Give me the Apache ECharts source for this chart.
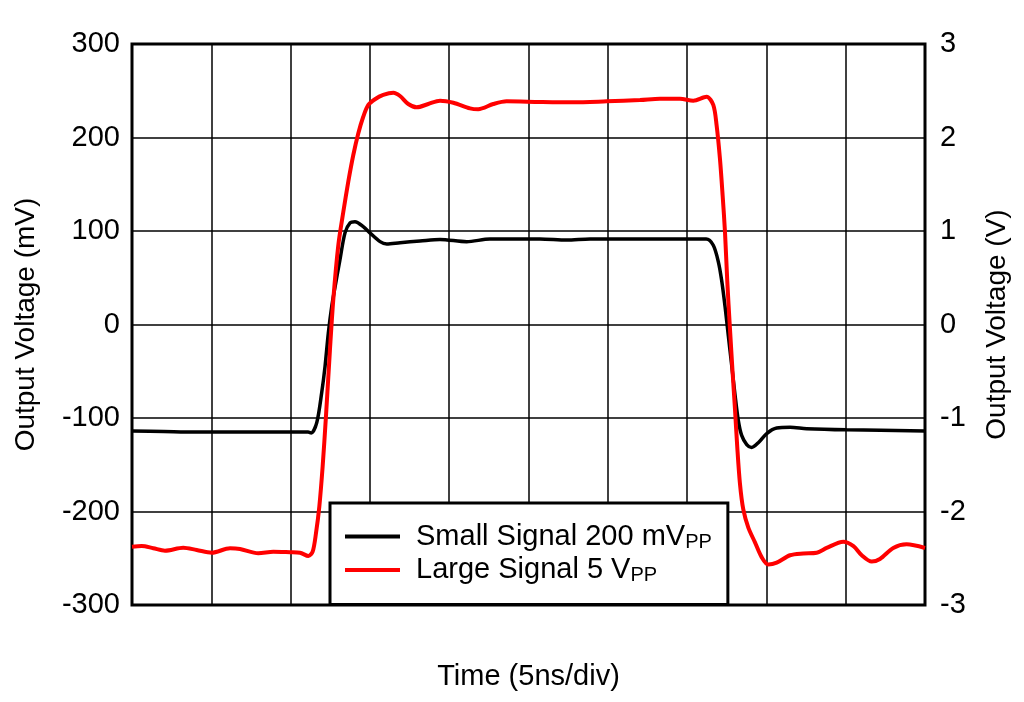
<!DOCTYPE html>
<html>
<head>
<meta charset="utf-8">
<script src="https://cdn.jsdelivr.net/npm/echarts@6/dist/echarts.min.js"></script>
<style>
  html, body { margin: 0; padding: 0; background: #fff; }
  #chart { width: 1024px; height: 702px; }
</style>
</head>
<body>
<div id="chart"></div>
<script>
// time in ns (5 ns per division)
const smallTime = [0, 2, 4, 6, 8, 10, 11.1, 11.3, 11.65, 11.96, 12.17, 12.38, 12.59, 12.8, 13.11, 13.43, 13.75, 14.06, 14.58, 15.0, 15.64, 16.06, 16.9, 18.16, 19.42, 21.1, 22.57, 25.72, 27.41, 28.88, 32, 36.2, 36.65, 36.97, 37.18, 37.39, 37.6, 37.81, 38.02, 38.23, 38.44, 38.76, 39.07, 39.49, 40.02, 40.65, 41.49, 42.54, 45.06, 50]
// small signal, mV (left axis)
const smallVolt = [-114, -114.5, -115, -115, -115, -115, -115, -116, -105, -73, -45, -9, 19, 40, 69, 98, 108.6, 110, 104.6, 98, 88.6, 86.1, 87.5, 89.3, 91, 88.5, 91.5, 91.5, 90.4, 91.5, 91.5, 91.5, 84.8, 67, 47, 19.6, -12, -43.5, -75, -102.8, -118.6, -128.4, -131.5, -126.4, -116.6, -110.7, -110, -111.4, -112.6, -113.8]

const largeTime = [0, 0.61, 1.34, 2.08, 3.23, 4.08, 5.03, 6.18, 6.81, 7.96, 8.91, 9.96, 10.59, 11.12, 11.39, 11.6, 11.81, 12.02, 12.23, 12.48, 12.69, 13.01, 13.32, 13.64, 13.95, 14.27, 14.58, 14.9, 15.32, 15.84, 16.48, 16.9, 17.42, 17.95, 18.68, 19.42, 20.26, 21.31, 21.83, 22.78, 23.62, 25.72, 27.8, 29.93, 32.03, 33.29, 34.55, 35.39, 36.23, 36.65, 36.86, 37.07, 37.24, 37.39, 37.53, 37.7, 37.87, 38.02, 38.16, 38.33, 38.54, 38.86, 39.28, 39.7, 40.12, 40.65, 41.49, 42.33, 43.17, 43.8, 44.85, 45.49, 46.01, 46.64, 47.16, 48.0, 48.84, 50]
// large signal, V (right axis)
const largeVolt = [-2.376, -2.369, -2.393, -2.419, -2.387, -2.412, -2.441, -2.393, -2.401, -2.447, -2.43, -2.436, -2.441, -2.476, -2.43, -2.233, -1.949, -1.521, -0.98, -0.273, 0.262, 0.85, 1.2, 1.53, 1.81, 2.045, 2.222, 2.348, 2.409, 2.455, 2.479, 2.444, 2.358, 2.323, 2.358, 2.394, 2.372, 2.312, 2.302, 2.358, 2.387, 2.38, 2.376, 2.387, 2.401, 2.415, 2.415, 2.394, 2.436, 2.349, 2.132, 1.775, 1.381, 0.986, 0.473, -0.04, -0.514, -0.909, -1.304, -1.698, -1.975, -2.172, -2.33, -2.488, -2.567, -2.547, -2.468, -2.449, -2.441, -2.39, -2.323, -2.37, -2.468, -2.536, -2.508, -2.39, -2.351, -2.39]

const leftTicks = [-300, 300, 100]
const rightTicks = [-3, 3, 1]
const seriesNames = ['Small Signal 200 mV', 'Large Signal 5 V']

const font = 'Liberation Sans, Arial, sans-serif'

const chart = echarts.init(document.getElementById('chart'))

const option = {
    animation: false,
    backgroundColor: '#fff',
    grid: {
        left: 132,
        right: 99,
        top: 44,
        bottom: 97,
        show: true,
        borderColor: '#000',
        borderWidth: 3
    },
    legend: {
        orient: 'vertical',
        left: 330,
        top: 503,
        data: seriesNames,
        icon: 'rect',
        itemWidth: 55,
        itemHeight: 4,
        itemGap: 3.5,
        padding: [19, 16, 19, 15],
        backgroundColor: '#fff',
        borderColor: '#000',
        borderWidth: 3,
        borderRadius: 0,
        formatter: name => '{m|' + name + '}{s|PP}',
        textStyle: {
            rich: {
                m: { fontFamily: font, fontSize: 29, color: '#000', lineHeight: 31, padding: [0, 0, 0, 11] },
                s: { fontFamily: font, fontSize: 20, color: '#000', verticalAlign: 'bottom', lineHeight: 20 }
            }
        }
    },
    xAxis: {
        type: 'value',
        min: 0,
        max: 50,
        interval: 5,
        name: 'Time (5ns/div)',
        nameLocation: 'middle',
        nameGap: 57,
        nameTextStyle: { fontFamily: font, fontSize: 29, color: '#000' },
        axisLine: { show: false },
        axisTick: { show: false },
        axisLabel: { show: false },
        splitLine: { show: true, lineStyle: { color: '#000', width: 1.5 } }
    },
    yAxis: [
        {
            type: 'value',
            min: leftTicks[0],
            max: leftTicks[1],
            interval: leftTicks[2],
            name: 'Output Voltage (mV)',
            nameLocation: 'middle',
            nameGap: 92,
            nameTextStyle: { fontFamily: font, fontSize: 28, color: '#000' },
            axisLine: { show: false },
            axisTick: { show: false },
            axisLabel: { fontFamily: font, fontSize: 29, color: '#000', margin: 12 },
            splitLine: { show: true, lineStyle: { color: '#000', width: 1.5 } }
        },
        {
            type: 'value',
            position: 'right',
            min: rightTicks[0],
            max: rightTicks[1],
            interval: rightTicks[2],
            name: 'Output Voltage (V)',
            nameLocation: 'middle',
            nameRotate: 90,
            nameGap: 58,
            nameTextStyle: { fontFamily: font, fontSize: 28, color: '#000' },
            axisLine: { show: false },
            axisTick: { show: false },
            axisLabel: { fontFamily: font, fontSize: 29, color: '#000', margin: 15 },
            splitLine: { show: false }
        }
    ],
    series: [
        {
            name: seriesNames[0],
            type: 'line',
            yAxisIndex: 0,
            showSymbol: false,
            smooth: 0.3,
            color: '#000',
            lineStyle: { color: '#000', width: 3.5 },
            data: smallTime.map((t, i) => [t, smallVolt[i]])
        },
        {
            name: seriesNames[1],
            type: 'line',
            yAxisIndex: 1,
            showSymbol: false,
            smooth: 0.3,
            color: '#ff0000',
            lineStyle: { color: '#ff0000', width: 4 },
            data: largeTime.map((t, i) => [t, largeVolt[i]])
        }
    ]
}

chart.setOption(option)
</script>
</body>
</html>
